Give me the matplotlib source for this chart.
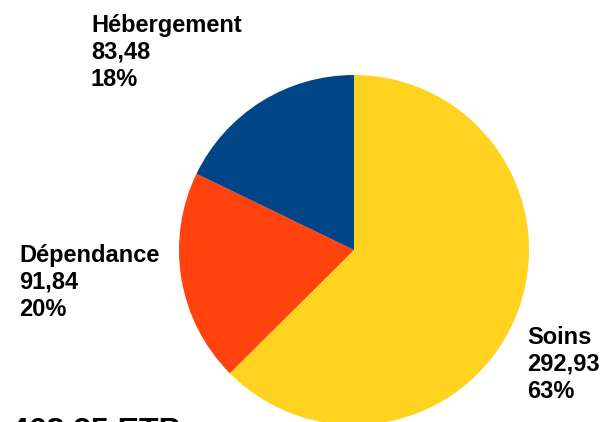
import matplotlib
matplotlib.use('Agg')
import matplotlib.pyplot as plt

# données
categories = ['Soins', 'Dépendance', 'Hébergement']
valeurs = [292.93, 91.84, 83.48]
couleurs = ['#FFD320', '#FF420E', '#004586']
total_label = '468,25 ETP'

plt.rcParams['font.family'] = ['Liberation Sans', 'DejaVu Sans']

W, H = 605, 422
fig = plt.figure(figsize=(W / 100, H / 100), dpi=100)
ax = fig.add_axes([0, 0, 1, 1])

# centre et rayon en pixels
cx, cy, r = 354, H - 250, 175
ax.pie(valeurs, colors=couleurs, startangle=90, counterclock=False,
       center=(cx, cy), radius=r, frame=True)
ax.set_xlim(0, W)
ax.set_ylim(0, H)
ax.set_aspect('equal')
ax.axis('off')

total = sum(valeurs)
pos_labels = {'Soins': (527, 326), 'Dépendance': (19, 244), 'Hébergement': (91, 14)}
for cat, v in zip(categories, valeurs):
    x, y = pos_labels[cat]
    txt = '%s\n%s\n%d%%' % (cat, ('%.2f' % v).replace('.', ','), round(v / total * 100))
    ax.text(x, H - y, txt, fontsize=17, fontweight='bold', ha='left', va='top',
            linespacing=1.22)

ax.text(11, H - 417, total_label, fontsize=23, fontweight='bold', ha='left', va='top')

fig.savefig('out.png', dpi=100)
